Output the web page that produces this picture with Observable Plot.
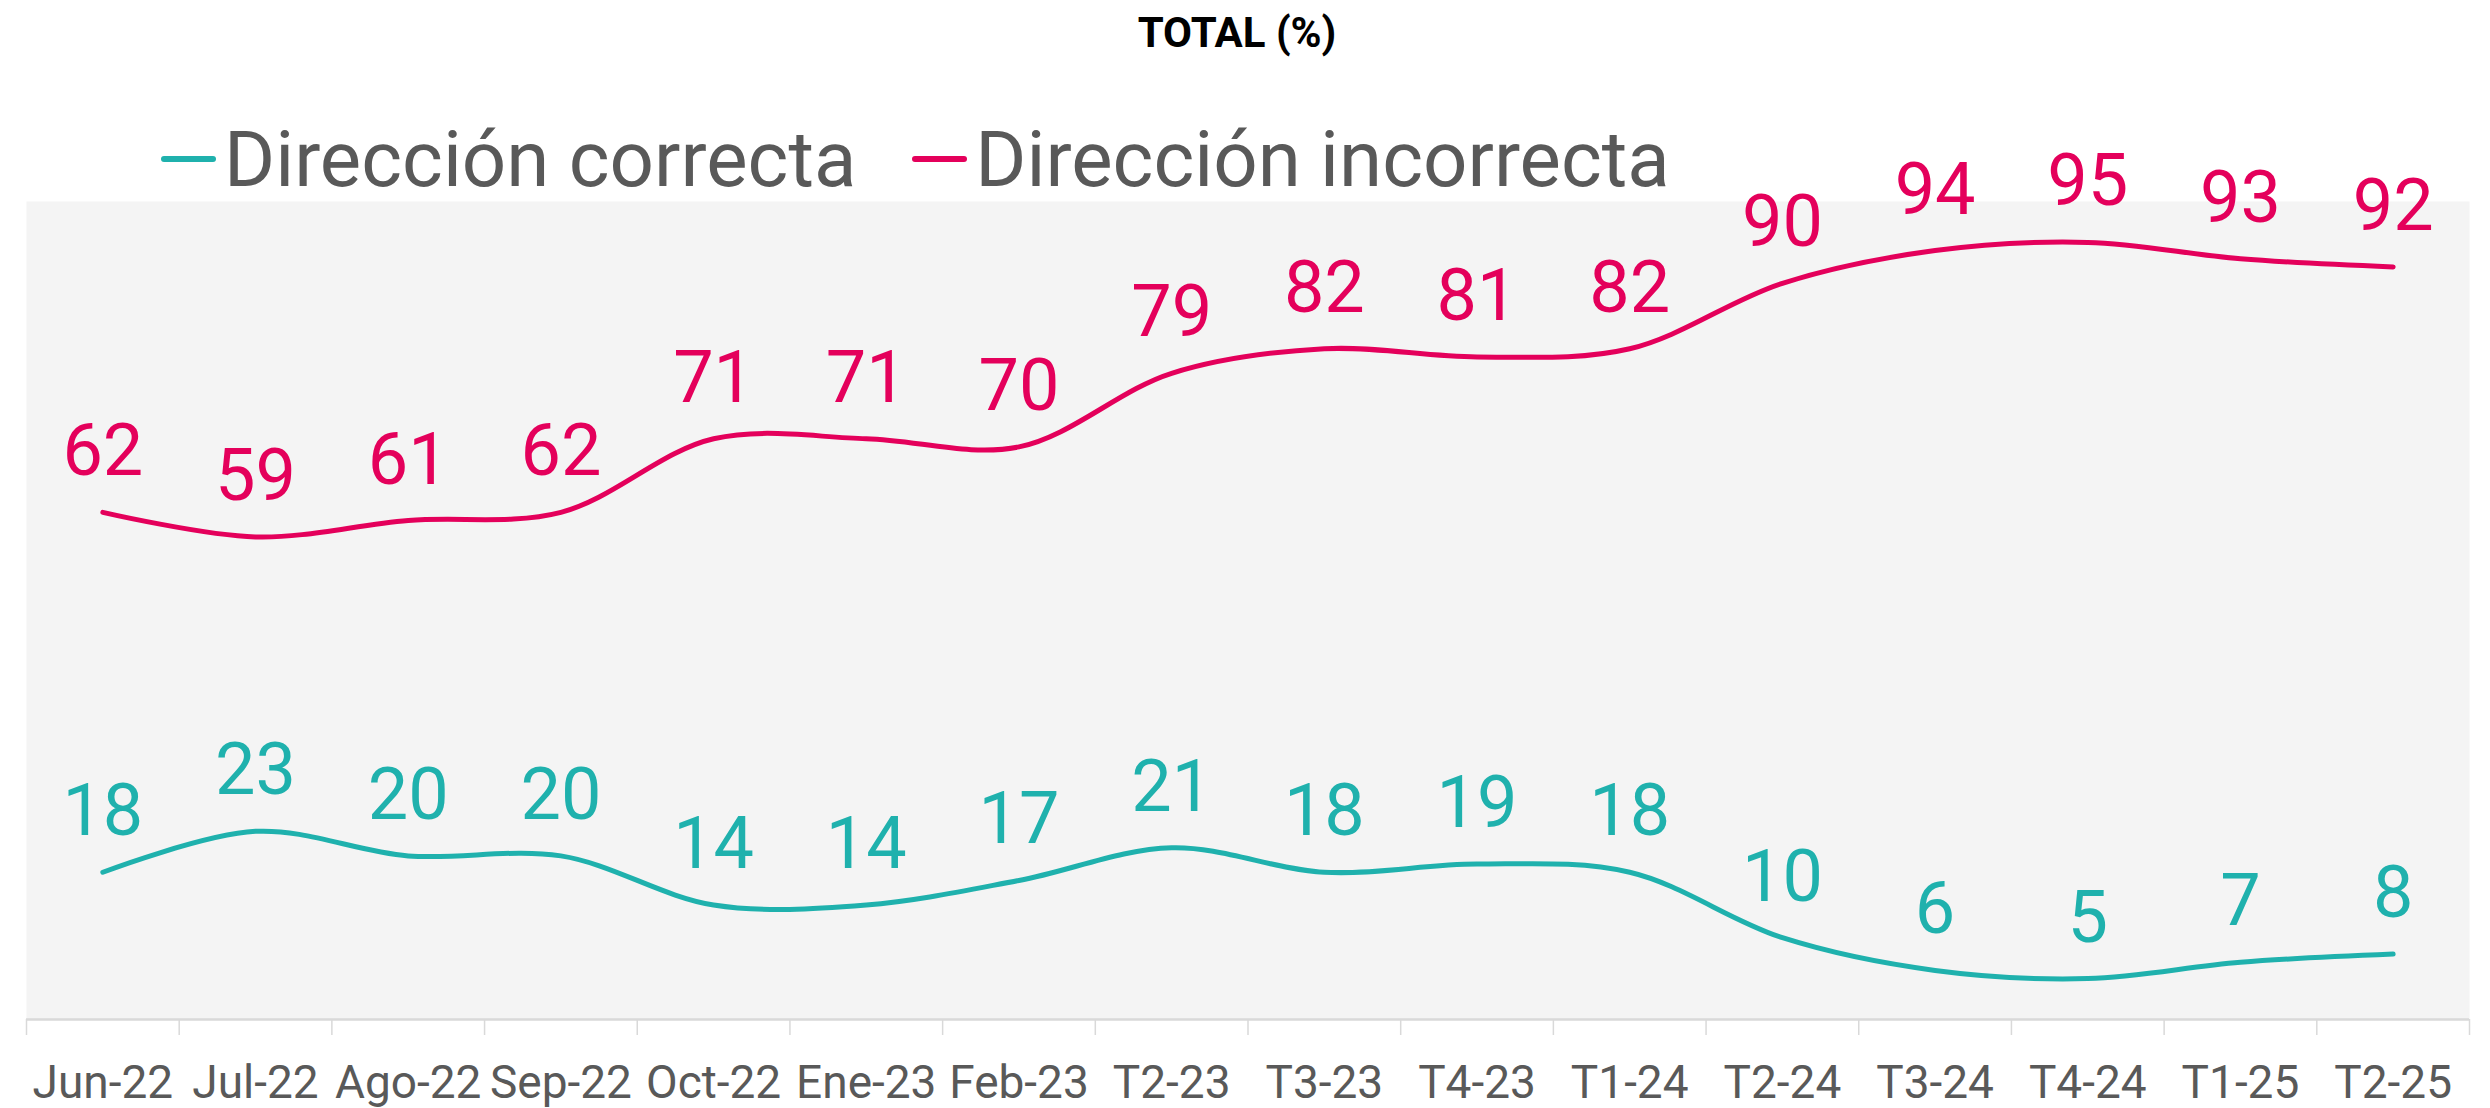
<!DOCTYPE html>
<html>
<head>
<meta charset="utf-8">
<script src="https://cdn.jsdelivr.net/npm/d3@7"></script>
<script src="https://cdn.jsdelivr.net/npm/@observablehq/plot@0.6"></script>
<style>
  body { margin: 0; background: #fff; font-family: Roboto, sans-serif; }
  #wrap { position: relative; width: 2490px; height: 1108px; overflow: hidden; }
  #chart { position: absolute; left: 0; top: 0; }
  #title { position: absolute; top: 12px; left: 1237px; transform: translateX(-50%);
           font: 700 42px/1 Roboto, sans-serif; color: #000; white-space: nowrap; }
  #legend { position: absolute; left: 161px; top: 121px; display: flex; align-items: center; }
  .item { display: flex; align-items: center; margin-right: 56px; }
  .sw { width: 55px; height: 6px; border-radius: 3px; margin-right: 8px; margin-top: -2px; }
  .lab { font: 400 78px/1 Roboto, sans-serif; color: #595959; white-space: nowrap; }
</style>
</head>
<body>
<div id="wrap">
  <div id="chart"></div>
  <div id="title">TOTAL (%)</div>
  <div id="legend"></div>
</div>
<script>
const categories = ["Jun-22","Jul-22","Ago-22","Sep-22","Oct-22","Ene-23","Feb-23","T2-23","T3-23","T4-23","T1-24","T2-24","T3-24","T4-24","T1-25","T2-25"];
const correcta   = [18, 23, 20, 20, 14, 14, 17, 21, 18, 19, 18, 10, 6, 5, 7, 8];
const incorrecta = [62, 59, 61, 62, 71, 71, 70, 79, 82, 81, 82, 90, 94, 95, 93, 92];
const seriesNames  = ["Dirección correcta", "Dirección incorrecta"];
const seriesColors = ["#1FB1AD", "#E4005B"];

const data = [];
categories.forEach((c, i) => {
  data.push({i, cat: c, serie: seriesNames[0], v: correcta[i]});
  data.push({i, cat: c, serie: seriesNames[1], v: incorrecta[i]});
});
const boundaries = d3.range(categories.length + 1).map(k => k - 0.5);

const chart = Plot.plot({
  width: 2490, height: 1108,
  marginLeft: 26, marginRight: 21, marginTop: 201, marginBottom: 89,
  x: {domain: [-0.5, categories.length - 0.5], axis: null, label: null},
  y: {domain: [0, 100], axis: null, label: null},
  color: {domain: seriesNames, range: seriesColors},
  style: {fontFamily: "Roboto, sans-serif", background: "transparent", overflow: "visible"},
  marks: [
    Plot.frame({fill: "#F4F4F4", stroke: "none"}),
    Plot.axisX({ticks: boundaries, tickSize: 16, tickFormat: () => "", label: null,
                stroke: "#D9D9D9", strokeWidth: 1.5, strokeOpacity: 1}),
    Plot.axisX({ticks: d3.range(categories.length), tickSize: 0, tickPadding: 46, label: null,
                tickFormat: i => categories[i], fontSize: 46, fill: "#595959"}),
    Plot.ruleY([0], {stroke: "#D9D9D9", strokeWidth: 2.5}),
    Plot.line(data, {x: "i", y: "v", z: "serie", stroke: "serie", strokeWidth: 5,
                     curve: "catmull-rom", strokeLinecap: "round", strokeLinejoin: "round"}),
    Plot.text(data, {x: "i", y: "v", text: d => String(d.v), fill: "serie", fontSize: 72, dy: -60})
  ]
});
document.getElementById("chart").appendChild(chart);

const legend = document.getElementById("legend");
seriesNames.forEach((name, k) => {
  const item = document.createElement("div");
  item.className = "item";
  const sw = document.createElement("span");
  sw.className = "sw";
  sw.style.background = seriesColors[k];
  const lab = document.createElement("span");
  lab.className = "lab";
  lab.textContent = name;
  item.appendChild(sw);
  item.appendChild(lab);
  legend.appendChild(item);
});
</script>
</body>
</html>
